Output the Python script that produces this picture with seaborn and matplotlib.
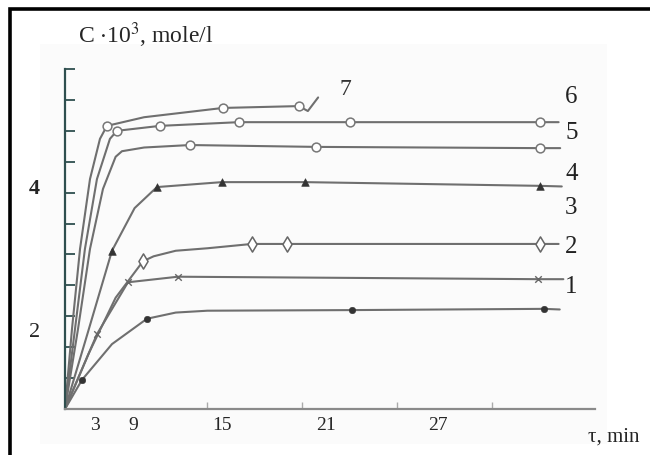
import matplotlib
matplotlib.use("Agg")
import matplotlib.pyplot as plt
import seaborn as sns
import pandas as pd
from matplotlib.patches import Rectangle

# time, min  /  concentration C*10^3 (axis units)
t1 = [0, 1.07, 2.97, 5.18, 7.0, 9.0, 18.13, 30.26, 31.27]
c1 = [0, 0.47, 1.05, 1.46, 1.56, 1.59, 1.60, 1.62, 1.61]
t1_mk = [1.07, 5.18, 18.13, 30.26]
c1_mk = [0.47, 1.46, 1.60, 1.62]

t2 = [0, 2.02, 3.98, 7.14, 29.88, 31.5]
c2 = [0, 1.21, 2.05, 2.14, 2.10, 2.10]
t2_mk = [2.02, 3.98, 7.14, 29.88]
c2_mk = [1.21, 2.05, 2.14, 2.10]

t3 = [0, 1.5, 3.2, 4.93, 5.6, 7.0, 9.0, 11.81, 14.02, 30.0, 31.2]
c3 = [0, 0.9, 1.8, 2.39, 2.47, 2.56, 2.60, 2.67, 2.67, 2.67, 2.67]
t3_mk = [4.93, 11.81, 14.02, 30.0]
c3_mk = [2.39, 2.67, 2.67, 2.67]

t4 = [0, 1.4, 2.97, 4.4, 5.81, 9.92, 15.16, 30.0, 31.4]
c4 = [0, 1.2, 2.56, 3.25, 3.59, 3.67, 3.67, 3.61, 3.60]
t4_mk = [2.97, 5.81, 9.92, 15.16, 30.0]
c4_mk = [2.56, 3.59, 3.67, 3.67, 3.61]

t5 = [0, 0.82, 1.58, 2.40, 3.2, 3.6, 5.0, 7.9, 15.86, 30.0, 31.3]
c5 = [0, 1.29, 2.59, 3.56, 4.08, 4.17, 4.23, 4.27, 4.24, 4.22, 4.22]
t5_mk = [7.9, 15.86, 30.0]
c5_mk = [4.27, 4.24, 4.22]

t6 = [0, 0.63, 1.26, 2.02, 2.84, 3.28, 6.0, 10.99, 18.0, 30.0, 31.2]
c6 = [0, 1.29, 2.59, 3.72, 4.37, 4.50, 4.58, 4.64, 4.64, 4.64, 4.64]
t6_mk = [3.28, 6.0, 10.99, 18.0, 30.0]
c6_mk = [4.50, 4.58, 4.64, 4.64, 4.64]

t7 = [0, 0.44, 0.95, 1.58, 2.21, 2.65, 5.0, 9.98, 14.78, 15.35, 16.0]
c7 = [0, 1.29, 2.59, 3.72, 4.37, 4.58, 4.72, 4.87, 4.90, 4.82, 5.04]
t7_mk = [2.65, 9.98, 14.78]
c7_mk = [4.58, 4.87, 4.90]

xtick_pos = [1.9, 4.3, 9.9, 16.5, 23.6]
xtick_labels = ["3", "9", "15", "21", "27"]
ytick_pos = [1.29, 3.61]
ytick_labels = ["2", "4"]

curve_labels = ["1", "2", "3", "4", "5", "6"]
curve_label_y = [1.99, 2.64, 3.27, 3.82, 4.48, 5.06]

sns.set_style("white")
plt.rcParams["font.family"] = ["Liberation Serif", "DejaVu Serif"]
plt.rcParams["mathtext.fontset"] = "stix"

fig = plt.figure(figsize=(6.5, 4.56), dpi=100)
fig.patches.append(Rectangle((40 / 650, 11 / 456), 567 / 650, 400 / 456,
                             transform=fig.transFigure, facecolor="#fbfbfb",
                             edgecolor="none", zorder=0))
fig.patches.append(Rectangle((10 / 650, -0.05), 1.2, 1.05 - 10 / 456,
                             transform=fig.transFigure, facecolor="none",
                             edgecolor="black", lw=2.6, zorder=1))

ax = fig.add_axes([65 / 650, 46 / 456, 530 / 650, 340 / 456])
ax.set_zorder(3)
ax.set_facecolor("none")

line_kw = dict(color="#6f6f6f", lw=1.5, sort=False, estimator=None, ax=ax, legend=False)
for tt, cc in [(t1, c1), (t2, c2), (t3, c3), (t4, c4), (t5, c5), (t6, c6), (t7, c7)]:
    sns.lineplot(x=tt, y=cc, **line_kw)

sns.scatterplot(x=t1_mk, y=c1_mk, marker="o", s=22, color="#333333", edgecolor="#333333", ax=ax, zorder=3)
sns.scatterplot(x=t2_mk, y=c2_mk, marker="x", s=22, color="#666666", linewidth=1.0, ax=ax, zorder=3)
sns.scatterplot(x=t3_mk, y=c3_mk, marker="d", s=60, color="white", edgecolor="#666666", linewidth=1.1, ax=ax, zorder=3)
sns.scatterplot(x=t4_mk, y=c4_mk, marker="^", s=30, color="#333333", edgecolor="#333333", ax=ax, zorder=3)
sns.scatterplot(x=t5_mk, y=c5_mk, marker="o", s=40, color="white", edgecolor="#777777", linewidth=1.1, ax=ax, zorder=3)
sns.scatterplot(x=t6_mk, y=c6_mk, marker="o", s=40, color="white", edgecolor="#777777", linewidth=1.1, ax=ax, zorder=3)
sns.scatterplot(x=t7_mk, y=c7_mk, marker="o", s=40, color="white", edgecolor="#777777", linewidth=1.1, ax=ax, zorder=3)

ax.set_xlim(0, 33.5)
ax.set_ylim(0, 5.5)

ax.set_xticks(xtick_pos)
ax.set_xticklabels(xtick_labels, fontsize=14)
ax.set_xticks([9, 15, 21, 27], minor=True)
ax.tick_params(axis="x", which="both", bottom=True)
ax.tick_params(axis="x", which="major", length=0, pad=5)
ax.tick_params(axis="x", which="minor", length=5, width=1.0, direction="in", color="#aaaaaa")

ax.set_yticks(ytick_pos)
ax.set_yticklabels(ytick_labels, fontsize=16)
ax.set_yticks([0.5 * i for i in range(1, 12)], minor=True)
ax.tick_params(axis="y", which="both", left=True)
ax.tick_params(axis="y", which="major", length=0, pad=18)
ax.tick_params(axis="y", which="minor", length=7, width=1.3, direction="in", color="#2f4f4f")
ax.get_yticklabels()[1].set_fontweight("bold")

for side in ["top", "right"]:
    ax.spines[side].set_visible(False)
ax.spines["left"].set_color("#2f4f4f")
ax.spines["left"].set_linewidth(1.6)
ax.spines["bottom"].set_color("#8a8a8a")
ax.spines["bottom"].set_linewidth(1.6)

for lab, yy in zip(curve_labels, curve_label_y):
    ax.text(32.0, yy, lab, fontsize=18, ha="center", va="center", color="#222222")
ax.text(17.7, 5.18, "7", fontsize=17, ha="center", va="center", color="#333333")

fig.text(78 / 650, 1 - 35 / 456, r"C $\cdot$10$^3$, mole/l", fontsize=17, ha="left", va="center")
fig.text(614 / 650, 1 - 437 / 456, "τ, min", fontsize=15, ha="center", va="center")

fig.savefig("out.png", dpi=100)
